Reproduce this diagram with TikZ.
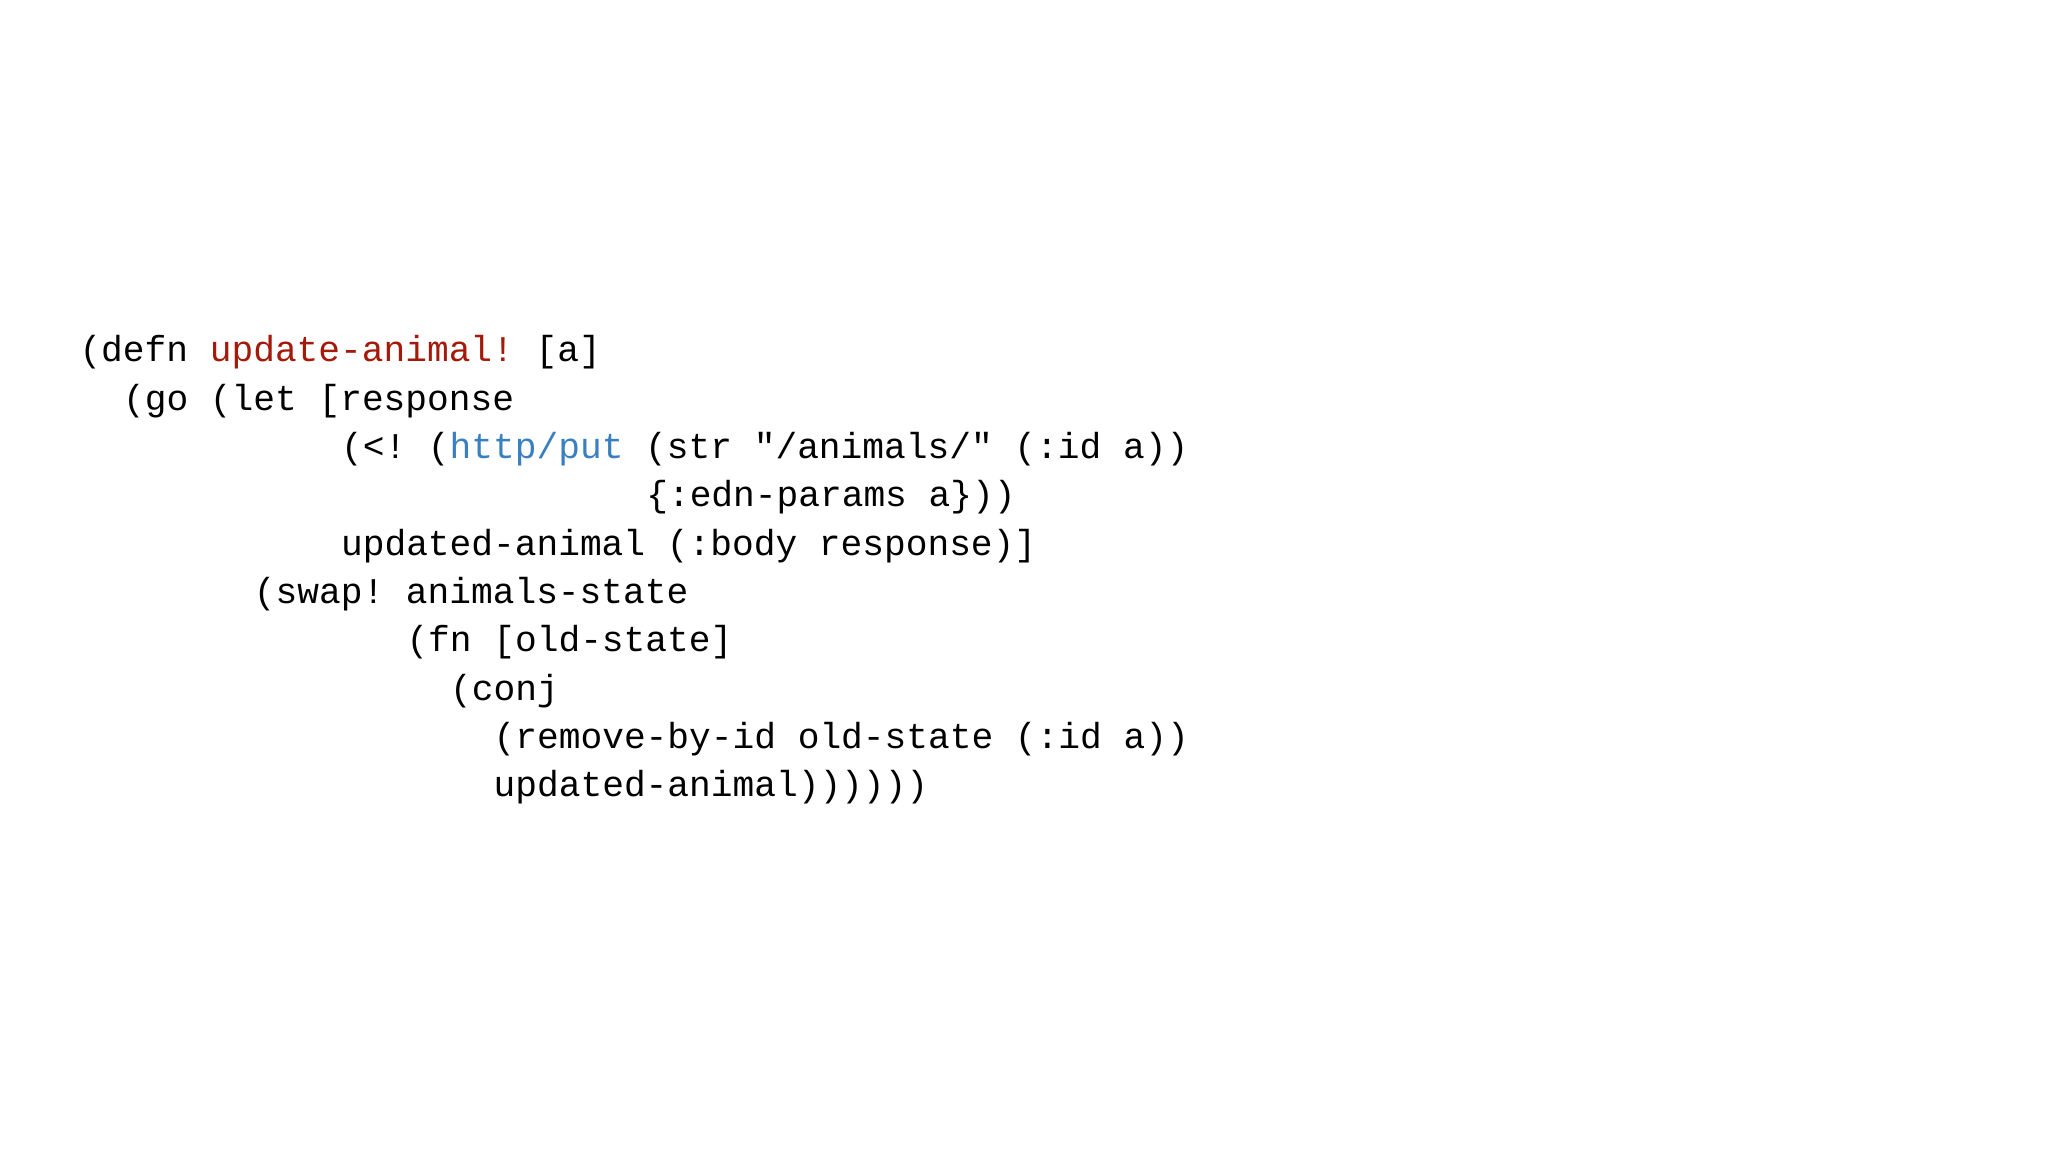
\documentclass[tikz,border=0pt]{standalone}
\usepackage{fontspec}
\setmonofont{Liberation Mono}
\definecolor{fnred}{HTML}{A31A0A}
\definecolor{fnblue}{HTML}{3A80C0}
\begin{document}
\begin{tikzpicture}[x=1cm,y=1cm,
  code/.style={anchor=base west,inner sep=0pt,font=\ttfamily\fontsize{10.3pt}{12pt}\selectfont}]
\useasboundingbox[fill=white] (0,0) rectangle (20.48,11.52);
\def\cw{0.218}
\def\lx{0.788}
\def\ly{7.90}
\def\ls{0.483}
\node[code] (l1) at (\lx+0*\cw,\ly-0*\ls) {(defn \textcolor{fnred}{update-animal!} [a]};
\node[code] (l2) at (\lx+2*\cw,\ly-1*\ls) {(go (let [response};
\node[code] (l3) at (\lx+12*\cw,\ly-2*\ls) {(<! (\textcolor{fnblue}{http/put} (str "/animals/" (:id a))};
\node[code] (l4) at (\lx+26*\cw,\ly-3*\ls) {\{:edn-params a\}))};
\node[code] (l5) at (\lx+12*\cw,\ly-4*\ls) {updated-animal (:body response)]};
\node[code] (l6) at (\lx+8*\cw,\ly-5*\ls) {(swap! animals-state};
\node[code] (l7) at (\lx+15*\cw,\ly-6*\ls) {(fn [old-state]};
\node[code] (l8) at (\lx+17*\cw,\ly-7*\ls) {(conj};
\node[code] (l9) at (\lx+19*\cw,\ly-8*\ls) {(remove-by-id old-state (:id a))};
\node[code] (l10) at (\lx+19*\cw,\ly-9*\ls) {updated-animal))))))};
\end{tikzpicture}
\end{document}
